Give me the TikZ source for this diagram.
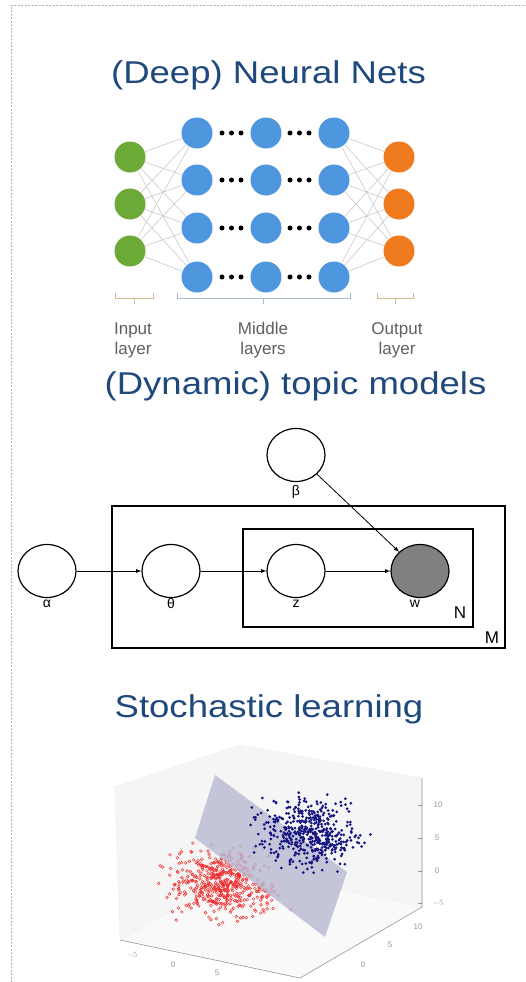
\documentclass[tikz,border=0pt]{standalone}
\usepackage{fontspec}
\setmainfont{Liberation Sans}
\usepackage{graphicx}
\usepackage{tikz}
\usetikzlibrary{shapes,arrows,positioning,fit}

\definecolor{titleblue}{RGB}{31,73,125}
\definecolor{ingreen}{RGB}{108,170,56}
\definecolor{midblue}{RGB}{78,150,222}
\definecolor{outorange}{RGB}{240,122,30}
\definecolor{edgegray}{RGB}{200,200,200}
\definecolor{bracetan}{RGB}{214,186,146}
\definecolor{bracegray}{RGB}{170,186,204}
\definecolor{labelgray}{RGB}{95,95,95}
\definecolor{obsgray}{RGB}{128,128,128}
\definecolor{planelav}{RGB}{185,185,210}
\definecolor{dotnavy}{RGB}{20,20,130}
\definecolor{dotred}{RGB}{240,40,40}
\definecolor{panegray}{RGB}{245,245,245}
\definecolor{axisgray}{RGB}{150,150,150}

\newcommand{\wide}[1]{\scalebox{1.16}[1]{#1}}

\begin{document}
\begin{tikzpicture}[x=1pt,y=-1pt]
			\tikzstyle{Title}	= [anchor=base, inner sep=0pt, text=titleblue, font=\fontsize{31.5}{36}\selectfont]
			\tikzstyle{Neuron}	= [circle, minimum size=31pt, inner sep=0pt]
			\tikzstyle{NNlabel}	= [inner sep=0pt, text=labelgray, font=\fontsize{17}{20}\selectfont]
			\tikzstyle{Var}		= [ellipse, draw, line width=1.2pt, fill=white, minimum width=58pt, minimum height=53pt, inner sep=0pt]
			\tikzstyle{Obs}		= [Var, fill=obsgray]
			\tikzstyle{Plate}	= [draw, line width=2.8pt, inner sep=0pt]
			\tikzstyle{Greek}	= [inner sep=0pt, font=\fontsize{14}{16}\selectfont]
			\tikzstyle{PlateLabel}	= [inner sep=0pt, font=\fontsize{17}{20}\selectfont]
			\tikzstyle{Arrow}	= [-latex, line width=0.8pt]
			\tikzstyle{Tick}	= [inner sep=0pt, text=axisgray, font=\fontsize{8}{9}\selectfont]
			
			\useasboundingbox (0,0) rectangle (526,982);
			\draw [gray!60, dash pattern=on 2pt off 1.5pt] (11,982) -- (11,5) -- (526,5);
			
			\node (t1) at (268.5,83) [Title] {\wide{(Deep) Neural Nets}};
			\node (t2) at (295.5,394) [Title] {\wide{(Dynamic) topic models}};
			\node (t3) at (269,717) [Title] {\wide{Stochastic learning}};
			
			\foreach \r/\y in {1/157, 2/204, 3/251}
				\node (in\r) at (130,\y) [Neuron, fill=ingreen] {};
			\foreach \r/\y in {1/157, 2/204, 3/251}
				\node (out\r) at (399,\y) [Neuron, fill=outorange] {};
			\foreach \c/\x in {1/197, 2/266, 3/334}
				\foreach \r/\y in {1/133, 2/180, 3/228, 4/277}
					\node (h\c\r) at (\x,\y) [Neuron, fill=midblue] {};
			\foreach \a in {1,2,3}
				\foreach \b in {1,2,3,4}
					\draw [edgegray, line width=0.6pt] (in\a) to (h1\b) (h3\b) to (out\a);
			\foreach \y in {133, 180, 228, 277}
				\foreach \x in {222, 231.5, 241, 290, 299.5, 309}
					\fill (\x,\y) circle (2.5);
			
			\draw [bracetan, line width=0.8pt] (115,293) -- (115,298) -- (153,298) -- (153,293) (134,298) -- (134,304);
			\draw [bracegray, line width=0.8pt] (177,293) -- (177,298) -- (350,298) -- (350,293) (263,298) -- (263,304);
			\draw [bracetan, line width=0.8pt] (377,293) -- (377,298) -- (413,298) -- (413,293) (395,298) -- (395,304);
			\node (lin) at (133,340) [NNlabel, align=center] {Input\\layer};
			\node (lmid) at (263,340) [NNlabel, align=center] {Middle\\layers};
			\node (lout) at (397,340) [NNlabel, align=center] {Output\\layer};
			
			\node (plateM) at (308.5,577) [Plate, minimum width=393pt, minimum height=142pt] {};
			\node (plateN) at (358,578) [Plate, minimum width=230pt, minimum height=98pt] {};
			\node (beta) at (296,455) [Var] {};
			\node (alpha) at (47,571) [Var] {};
			\node (theta) at (171,571) [Var] {};
			\node (z) at (296,571) [Var] {};
			\node (w) at (420,571) [Obs] {};
			\foreach \n/\x/\y/\t in {lbeta/296/492/β, lalpha/47/604/α, ltheta/171/603/θ, lz/296/604/z, lw/415/604/w}
				\node (\n) at (\x,\y) [Greek] {\t};
			\node (lN) at (460,613) [PlateLabel] {N};
			\node (lM) at (492,638) [PlateLabel] {M};
			\draw [Arrow] (alpha) -- (theta);
			\draw [Arrow] (theta) -- (z);
			\draw [Arrow] (z) -- (w);
			\draw [Arrow] (beta.south east) -- (w.north west);
			
			\fill [panegray] (120,940) -- (115,787) -- (240,745) -- (245,870) -- cycle;
			\fill [panegray] (245,870) -- (240,745) -- (422,778) -- (422,907) -- cycle;
			\fill [panegray!60] (120,940) -- (245,870) -- (422,907) -- (300,978) -- cycle;
			\draw [gray!12, line width=0.5pt] (120,940) -- (115,787) -- (240,745) -- (422,778) (240,745) -- (245,870) -- (120,940) (245,870) -- (422,907);
			\draw [axisgray, line width=0.6pt] (120,940) -- (300,978) -- (422,907) -- (422,778);
			\foreach \n/\x/\y/\t in {tx1/132/955/$-5$, tx2/173/965/0, tx3/217/973/5, ty1/363/965/0, ty2/390/945/5, ty3/418/927/10, tz1/438/805/10, tz2/437/838/5, tz3/437/871/0, tz4/438/903/$-5$}
				\node (\n) at (\x,\y) [Tick] {\t};
			\foreach \y in {805, 838, 871, 903}
				\draw [axisgray, line width=0.5pt] (418,\y) -- (422,\y);
			
			\pgfmathsetseed{11}
			\foreach \i in {1,...,480} {
				\pgfmathsetmacro{\dx}{rand+rand+rand}
				\pgfmathsetmacro{\dy}{rand+rand+rand}
				\draw [dotred, line width=0.45pt] (220+24*\dx+4*\dy, 885+16*\dy) circle (1.4);
			}
			\fill [planelav, opacity=0.8] (215,775) -- (347,872) -- (325,937) -- (195,838) -- cycle;
			\foreach \i in {1,...,480} {
				\pgfmathsetmacro{\dx}{rand+rand+rand}
				\pgfmathsetmacro{\dy}{rand+rand+rand}
				\fill [dotnavy] (308+23*\dx+3*\dy, 832+16*\dy) circle (1.5);
			}
		\end{tikzpicture}
\end{document}
